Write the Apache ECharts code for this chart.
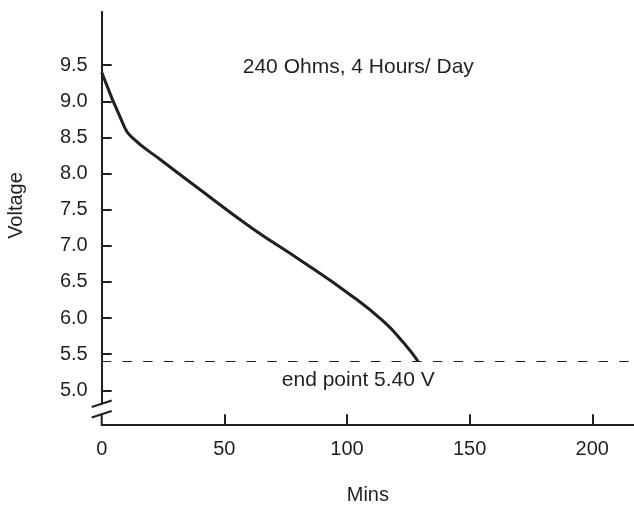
<!DOCTYPE html>
<html>
<head>
<meta charset="utf-8">
<script src="https://cdn.jsdelivr.net/npm/echarts@6/dist/echarts.min.js"></script>
<style>
html,body{margin:0;padding:0;background:#fff;}
#chart{width:634px;height:505px;}
</style>
</head>
<body>
<div id="chart"></div>
<script>
// Data
const minutes = [0, 8.8, 12, 24, 38, 61, 81, 101, 115, 123, 129];
const voltage = [9.40, 8.68, 8.51, 8.19, 7.83, 7.25, 6.80, 6.33, 5.95, 5.66, 5.40];
const endPoint = 5.40;
const xTicks = [0, 50, 100, 150, 200];
const yTicks = [5.0, 5.5, 6.0, 6.5, 7.0, 7.5, 8.0, 8.5, 9.0, 9.5];
const titleText = '240 Ohms, 4 Hours/ Day';
const endText = 'end point 5.40 V';

const INK = '#231f20';
const FONT = 'Liberation Sans, Arial, Helvetica, sans-serif';

const chart = echarts.init(document.getElementById('chart'), null, {renderer: 'canvas'});

const GRID = {left: 101.7, top: 11.7, right: 0, bottom: 101.5, outerBoundsMode: 'none', containLabel: false};
const X_OFFSET = 20.8;

const option = {
  animation: false,
  backgroundColor: '#fff',
  grid: GRID,
  xAxis: {
    type: 'value',
    min: 0,
    max: 217,
    offset: X_OFFSET,
    splitLine: {show: false},
    axisLine: {show: true, onZero: false, lineStyle: {color: INK, width: 2}},
    axisTick: {show: true, inside: true, length: 10, customValues: xTicks.filter(v => v > 0), lineStyle: {color: INK, width: 2}},
    axisLabel: {show: true, customValues: xTicks, margin: 15, color: INK, fontSize: 20, fontFamily: FONT},
    name: 'Mins',
    nameLocation: 'middle',
    nameGap: 61,
    nameTextStyle: {color: INK, fontSize: 20, fontFamily: FONT}
  },
  yAxis: {
    type: 'value',
    min: 4.817,
    max: 10.24,
    splitLine: {show: false},
    axisLine: {show: true, onZero: false, lineStyle: {color: INK, width: 2}},
    axisTick: {show: true, inside: true, length: 10, customValues: yTicks, lineStyle: {color: INK, width: 2}},
    axisLabel: {show: true, customValues: yTicks, margin: 14, color: INK, fontSize: 20, fontFamily: FONT,
      formatter: v => Number(v).toFixed(1)}
  },
  series: [{
    type: 'line',
    data: minutes.map((m, i) => [m, voltage[i]]),
    smooth: 0.5,
    showSymbol: false,
    lineStyle: {color: INK, width: 3},
    z: 3,
    markLine: {
      silent: true,
      symbol: ['none', 'none'],
      label: {show: false},
      lineStyle: {color: INK, width: 1.2, type: [9.5, 11.2]},
      data: [{yAxis: endPoint}]
    }
  }]
};
chart.setOption(option);

// Decorations: axis break, axis titles and annotation text
const axisX = GRID.left;
const gridBottomY = 505 - GRID.bottom;
const xAxisY = gridBottomY + X_OFFSET;
const endPx = chart.convertToPixel({gridIndex: 0}, [0, endPoint]);

chart.setOption({
  graphic: [
    {type: 'line', shape: {x1: axisX, y1: gridBottomY + 11, x2: axisX, y2: xAxisY + 1}, style: {stroke: INK, lineWidth: 2}},
    {type: 'line', shape: {x1: axisX - 10, y1: gridBottomY + 3.5, x2: axisX + 10, y2: gridBottomY - 3}, style: {stroke: INK, lineWidth: 2}},
    {type: 'line', shape: {x1: axisX - 10, y1: gridBottomY + 14, x2: axisX + 10, y2: gridBottomY + 7.5}, style: {stroke: INK, lineWidth: 2}},
    {type: 'text', x: 16, y: 205.5, rotation: Math.PI / 2,
      style: {text: 'Voltage', fill: INK, font: '20px ' + FONT, align: 'center', verticalAlign: 'middle'}},
    {type: 'text', x: 358.3, y: 67,
      style: {text: titleText, fill: INK, font: '21px ' + FONT, align: 'center', verticalAlign: 'middle'}},
    {type: 'text', x: 358.3, y: endPx[1] + 18.5,
      style: {text: endText, fill: INK, font: '21px ' + FONT, align: 'center', verticalAlign: 'middle'}}
  ]
});
</script>
</body>
</html>
